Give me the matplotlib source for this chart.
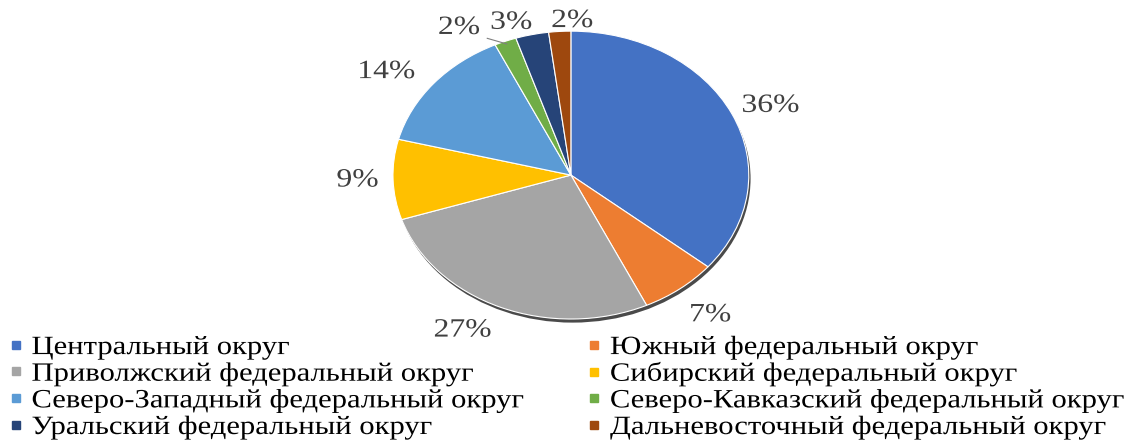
import numpy as np
import matplotlib.pyplot as plt
from matplotlib.lines import Line2D
from matplotlib.patches import Circle
from matplotlib.patheffects import AbstractPathEffect
from matplotlib.transforms import Affine2D

plt.rcParams['font.family'] = ['Liberation Serif', 'DejaVu Serif']


class HStretch(AbstractPathEffect):
    """Widen glyphs horizontally around the left edge or the centre."""

    def __init__(self, sx, anchor='left'):
        super().__init__()
        self.sx = sx
        self.anchor = anchor

    def draw_path(self, renderer, gc, tpath, affine, rgbFace=None):
        ext = tpath.get_extents(affine)
        x0 = ext.x0 if self.anchor == 'left' else (ext.x0 + ext.x1) / 2
        t = affine + Affine2D().translate(-x0, 0).scale(self.sx, 1).translate(x0, 0)
        renderer.draw_path(gc, tpath, t, rgbFace)


districts = ['Центральный округ',
             'Южный федеральный округ',
             'Приволжский федеральный округ',
             'Сибирский федеральный округ',
             'Северо-Западный федеральный округ',
             'Северо-Кавказский федеральный округ',
             'Уральский федеральный округ',
             'Дальневосточный федеральный округ']
shares = [36, 7, 27, 9, 14, 2, 3, 2]
colors = ['#4472C4', '#ED7D31', '#A5A5A5', '#FFC000',
          '#5B9BD5', '#70AD47', '#264478', '#9E480E']

fig = plt.figure(figsize=(11.26, 4.41), dpi=100)
ax = fig.add_axes([0.3095, 0.195, 0.395, 0.816])

wedges, _ = ax.pie(shares, colors=colors, startangle=90, counterclock=False,
                   wedgeprops=dict(edgecolor='white', linewidth=0.8))
ax.set_aspect('auto')
ax.set_xlim(-1.25, 1.25)
ax.set_ylim(-1.25, 1.25)

# soft shadow under the pie
shadow = Circle((0.01, -0.025), 1.0, facecolor='#4a4a4a', edgecolor='none', zorder=0)
ax.add_patch(shadow)
for w in wedges:
    w.set_zorder(1)

# percentage labels, radius and angle tweaks per wedge
label_r = [1.22, 1.25, 1.24, 1.20, 1.26, 1.20, 1.11, 1.07]
label_da = [-2, 1, -6, 0, 5, 10, 5, -4]
for w, s, r, da in zip(wedges, shares, label_r, label_da):
    ang = np.deg2rad((w.theta1 + w.theta2) / 2 + da)
    x, y = r * np.cos(ang), r * np.sin(ang)
    ax.text(x, y, f'{s}%', ha='center', va='center', fontsize=19, color='#404040',
            path_effects=[HStretch(1.2, 'center')])

# leader line for the small North Caucasus wedge
nc = wedges[5]
a = np.deg2rad((nc.theta1 + nc.theta2) / 2)
ax.plot([0.98 * np.cos(a), -0.47], [0.98 * np.sin(a), 0.95], color='#7f7f7f', lw=0.8)

order = [0, 2, 4, 6, 1, 3, 5, 7]
handles = [Line2D([], [], marker='s', linestyle='none', markersize=6,
                  markerfacecolor=colors[i], markeredgecolor=colors[i]) for i in order]
leg = fig.legend(handles, [districts[i] for i in order], ncol=2, loc='upper left',
                 bbox_to_anchor=(0.007, 0.239), frameon=False, fontsize=19,
                 handlelength=0.6, handletextpad=0.3, labelspacing=0.12,
                 columnspacing=4.9, borderaxespad=0, borderpad=0)
for t in leg.get_texts():
    t.set_path_effects([HStretch(1.16)])

fig.savefig('out.png', dpi=100)
